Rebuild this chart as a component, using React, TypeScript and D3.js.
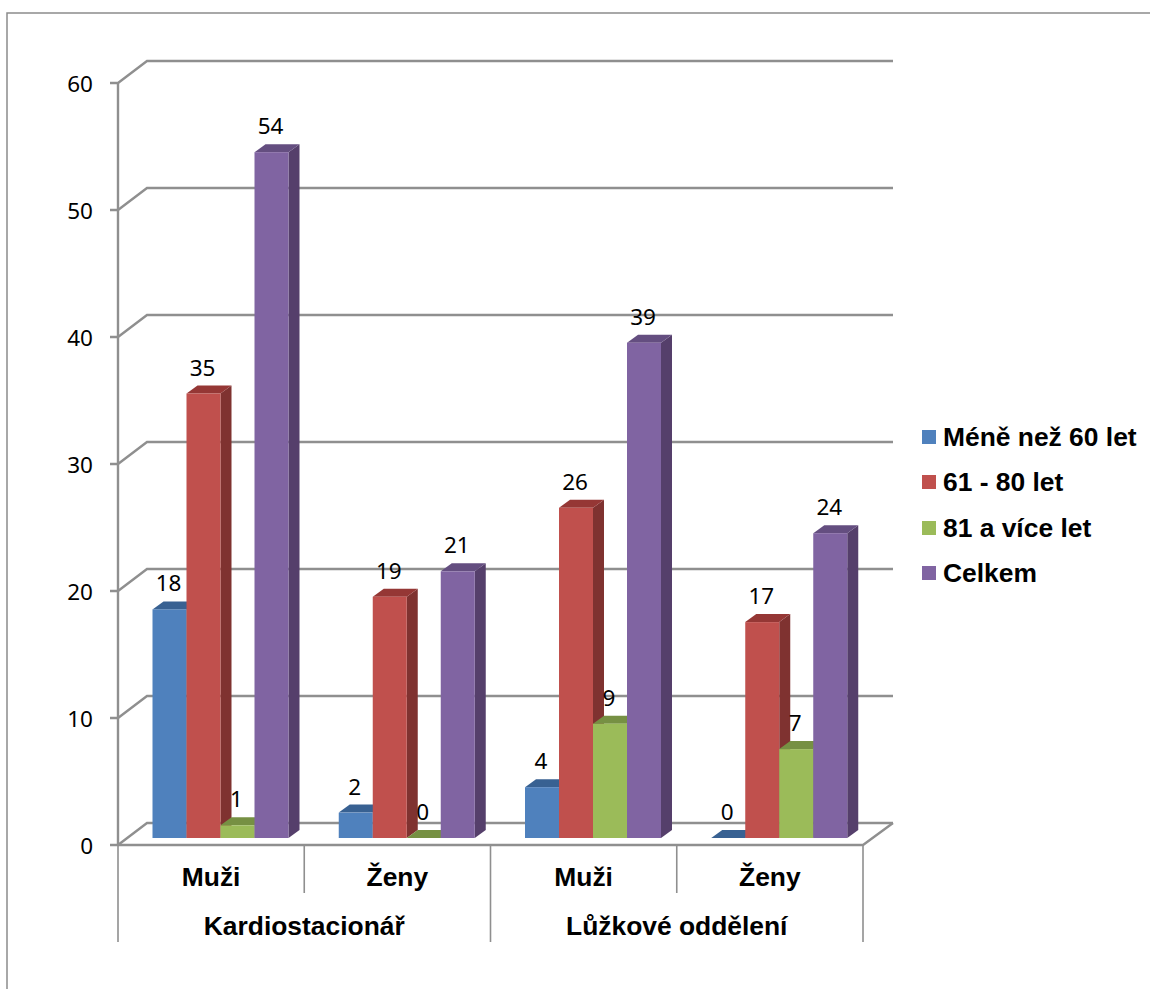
import React from "react";
import * as d3 from "d3";

const categories = ["Muži", "Ženy", "Muži", "Ženy"];
const departments = ["Kardiostacionář", "Lůžkové oddělení"];
const seriesNames = ["Méně než 60 let", "61 - 80 let", "81 a více let", "Celkem"];
const under60 = [18, 2, 4, 0];
const from61to80 = [35, 19, 26, 17];
const over81 = [1, 0, 9, 7];
const total = [54, 21, 39, 24];
const seriesValues = [under60, from61to80, over81, total];
const yTicks = [0, 10, 20, 30, 40, 50, 60];

const frontColors = ["#4F81BD", "#C0504D", "#9BBB59", "#8064A2"];
const topColors = ["#386192", "#953735", "#769043", "#644E80"];
const sideColors = ["#2F5279", "#7F3230", "#63793A", "#553F6B"];

const GRID = "#8f8f8f";
const LABEL_FONT = "'Noto Sans', sans-serif";
const BOLD_FONT = "'Liberation Sans', Arial, sans-serif";

const plotLeft = 118;
const plotRight = 863;
const wallDx = 29;
const wallDy = 22;
const barInset = 34.5;
const barBlock = 136;
const barDx = 11;
const barDy = 8;
const barBaseShift = 7;

const y = d3.scaleLinear().domain([0, 60]).range([845, 83]);
const xCategory = d3
  .scaleBand<number>()
  .domain(d3.range(categories.length))
  .range([plotLeft, plotRight]);
const xSeries = d3
  .scaleBand<number>()
  .domain(d3.range(seriesNames.length))
  .range([barInset, barInset + barBlock]);

const poly = d3.line();

export default function App() {
  const band = xCategory.bandwidth();
  const barW = xSeries.bandwidth();
  return (
    <svg
      width={1150}
      height={989}
      style={{ position: "absolute", left: 0, top: 0, display: "block", background: "#fff" }}
    >
      {/* outer frame, open on the right and bottom */}
      <path d="M7,989V13H1150" fill="none" stroke="#8c8c8c" strokeWidth={1.5} />

      {/* back-wall gridlines with their diagonal returns and axis ticks */}
      {yTicks.map((t) => (
        <g key={t}>
          <path
            d={poly([
              [plotLeft - 8, y(t)],
              [plotLeft, y(t)],
              [plotLeft + wallDx, y(t) - wallDy],
              [plotRight + wallDx + 1, y(t) - wallDy],
            ])!}
            fill="none"
            stroke={GRID}
            strokeWidth={2.4}
          />
          <text
            x={93}
            y={y(t) + 1}
            dy="0.36em"
            textAnchor="end"
            fontFamily={LABEL_FONT}
            fontSize={22.5}
            fill="#000"
          >
            {t}
          </text>
        </g>
      ))}

      {/* floor edge, vertical axis and category separators */}
      <path
        d={poly([
          [plotRight + wallDx + 1, y(0) - wallDy],
          [plotRight, y(0)],
          [plotLeft, y(0)],
        ])!}
        fill="none"
        stroke={GRID}
        strokeWidth={2.4}
      />
      <line x1={plotLeft} x2={plotLeft} y1={y(60)} y2={y(0)} stroke={GRID} strokeWidth={2.4} />
      {d3.range(categories.length + 1).map((i) => {
        const x = plotLeft + i * band;
        return (
          <line
            key={i}
            x1={x}
            x2={x}
            y1={y(0)}
            y2={i % 2 === 0 ? 942 : 893}
            stroke={GRID}
            strokeWidth={1.6}
          />
        );
      })}

      {/* 3-D columns, painted left to right so each one covers its neighbour's side */}
      {categories.map((_, c) =>
        seriesNames.map((_, s) => {
          const v = seriesValues[s][c];
          const x0 = xCategory(c)! + xSeries(s)!;
          const x1 = x0 + barW;
          const base = y(0) - barBaseShift;
          const top = y(v) - barBaseShift;
          return (
            <g key={`${c}-${s}`}>
              <path
                d={
                  poly([
                    [x1, top],
                    [x1 + barDx, top - barDy],
                    [x1 + barDx, base - barDy],
                    [x1, base],
                  ])! + "Z"
                }
                fill={sideColors[s]}
              />
              <path
                d={
                  poly([
                    [x0, top],
                    [x0 + barDx, top - barDy],
                    [x1 + barDx, top - barDy],
                    [x1, top],
                  ])! + "Z"
                }
                fill={topColors[s]}
              />
              <rect x={x0} y={top} width={barW} height={base - top} fill={frontColors[s]} />
            </g>
          );
        })
      )}

      {/* value labels sit above the columns */}
      {categories.map((_, c) =>
        seriesNames.map((_, s) => {
          const v = seriesValues[s][c];
          const cx = xCategory(c)! + xSeries(s)! + barW / 2 - 1;
          return (
            <text
              key={`${c}-${s}`}
              x={cx}
              y={y(v) - barBaseShift - 18}
              textAnchor="middle"
              fontFamily={LABEL_FONT}
              fontSize={22.5}
              fill="#000"
            >
              {v}
            </text>
          );
        })
      )}

      {/* two-level category axis */}
      {categories.map((name, c) => (
        <text
          key={c}
          x={xCategory(c)! + band / 2}
          y={886}
          textAnchor="middle"
          fontFamily={BOLD_FONT}
          fontWeight="bold"
          fontSize={26.4}
          fill="#000"
        >
          {name}
        </text>
      ))}
      {departments.map((name, d) => (
        <text
          key={name}
          x={xCategory(d * 2)! + band}
          y={935}
          textAnchor="middle"
          fontFamily={BOLD_FONT}
          fontWeight="bold"
          fontSize={26.4}
          fill="#000"
        >
          {name}
        </text>
      ))}

      {/* legend */}
      {seriesNames.map((name, s) => {
        const cy = [437, 482, 528, 573][s];
        return (
          <g key={name}>
            <rect x={922} y={cy - 7} width={14} height={14} fill={frontColors[s]} />
            <text
              x={943}
              y={cy + 9}
              fontFamily={BOLD_FONT}
              fontWeight="bold"
              fontSize={26.4}
              fill="#000"
            >
              {name}
            </text>
          </g>
        );
      })}
    </svg>
  );
}
